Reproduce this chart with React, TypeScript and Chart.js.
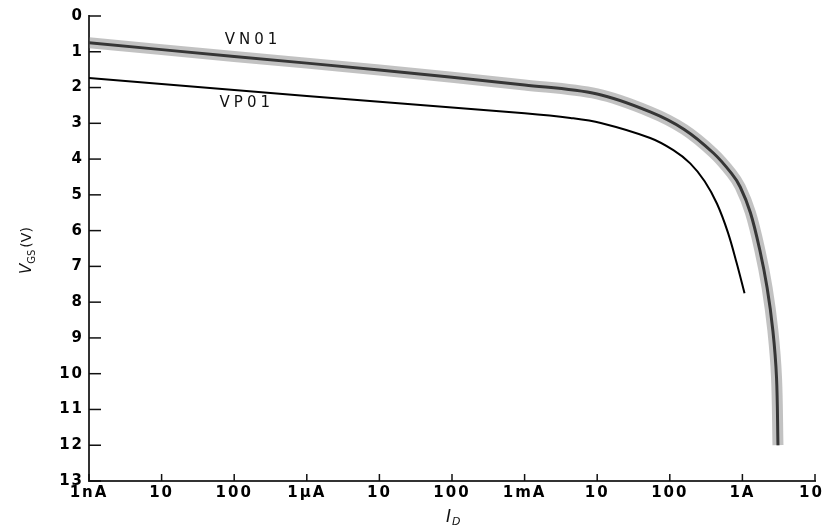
import React, { useEffect, useRef } from "react";
import { Chart, registerables } from "chart.js";

Chart.register(...registerables);

// Drain current I_D (A) and gate-source voltage V_GS (V)
const vn01Current = [1e-9, 1e-7, 1e-5, 1e-3, 1e-2, 0.0537, 0.158, 0.398, 0.708, 0.933, 1.29, 1.74, 2.19, 2.63, 2.95, 3.09];
const vn01Vgs = [0.75, 1.13, 1.51, 1.93, 2.18, 2.68, 3.17, 3.83, 4.4, 4.78, 5.5, 6.55, 7.6, 8.8, 10.1, 12.0];

const vp01Current = [1e-9, 1e-7, 1e-5, 1e-3, 4.27e-3, 1.12e-2, 5.37e-2, 0.112, 0.191, 0.302, 0.447, 0.631, 0.832, 1.07];
const vp01Vgs = [1.73, 2.07, 2.4, 2.72, 2.85, 2.99, 3.41, 3.75, 4.12, 4.62, 5.25, 6.05, 6.9, 7.75];

const xTickValues = [1e-9, 1e-8, 1e-7, 1e-6, 1e-5, 1e-4, 1e-3, 1e-2, 1e-1, 1, 10];
const xTickLabels = ["1nA", "10", "100", "1\u00b5A", "10", "100", "1mA", "10", "100", "1A", "10"];
const yTickValues = [0, 1, 2, 3, 4, 5, 6, 7, 8, 9, 10, 11, 12, 13];

const seriesLabels = [
  { text: "VN01", x: 1.7e-7, y: 0.67 },
  { text: "VP01", x: 1.4e-7, y: 2.43 },
];

const INK = "#111";
const FONT = "'DejaVu Sans', 'Liberation Sans', sans-serif";

const toPoints = (xs: number[], ys: number[]) => xs.map((x, i) => ({ x, y: ys[i] }));

const decorPlugin = {
  id: "decor",
  beforeDraw(chart: any) {
    (chart.ctx as any).letterSpacing = "2px";
  },
  afterDraw(chart: any) {
    const { ctx, scales, chartArea } = chart;
    const xs = scales.x;
    const ys = scales.y;
    ctx.save();
    ctx.strokeStyle = INK;
    ctx.lineWidth = 1.5;
    // inward ticks
    ys.ticks.forEach((t: any) => {
      const py = ys.getPixelForValue(t.value);
      ctx.beginPath();
      ctx.moveTo(chartArea.left, py);
      ctx.lineTo(chartArea.left + 12, py);
      ctx.stroke();
    });
    xs.ticks.forEach((t: any) => {
      const px = xs.getPixelForValue(t.value);
      ctx.beginPath();
      ctx.moveTo(px, chartArea.bottom);
      ctx.lineTo(px, chartArea.bottom - 7);
      ctx.stroke();
    });
    // series labels
    ctx.fillStyle = INK;
    ctx.letterSpacing = "4px";
    ctx.font = `15px ${FONT}`;
    ctx.textAlign = "center";
    ctx.textBaseline = "middle";
    seriesLabels.forEach((l) => {
      ctx.fillText(l.text, xs.getPixelForValue(l.x) + 2, ys.getPixelForValue(l.y));
    });
    // x title I_D
    ctx.letterSpacing = "0px";
    const cx = (chartArea.left + chartArea.right) / 2;
    ctx.textAlign = "left";
    ctx.textBaseline = "alphabetic";
    ctx.font = `italic 17px ${FONT}`;
    ctx.fillText("I", cx - 6, 522);
    ctx.font = `italic 11px ${FONT}`;
    ctx.fillText("D", cx, 525);
    // y title V_GS (V)
    ctx.translate(31, 250);
    ctx.rotate(-Math.PI / 2);
    ctx.font = `italic 15px ${FONT}`;
    let x0 = -24;
    ctx.fillText("V", x0, 0);
    x0 += ctx.measureText("V").width;
    ctx.font = `10px ${FONT}`;
    ctx.fillText("GS", x0, 4);
    x0 += ctx.measureText("GS").width + 2;
    ctx.font = `14px ${FONT}`;
    ctx.fillText("(V)", x0, 0);
    ctx.restore();
  },
};

export default function App() {
  const canvasRef = useRef<HTMLCanvasElement | null>(null);

  useEffect(() => {
    if (!canvasRef.current) return;
    const chart = new Chart(canvasRef.current, {
      type: "line",
      data: {
        datasets: [
          {
            label: "VN01 spread",
            data: toPoints(vn01Current, vn01Vgs),
            borderColor: "rgba(120,120,120,0.45)",
            borderWidth: 11,
            pointRadius: 0,
            tension: 0.35,
            fill: false,
          },
          {
            label: "VN01",
            data: toPoints(vn01Current, vn01Vgs),
            borderColor: "#000",
            borderWidth: 3,
            pointRadius: 0,
            tension: 0.35,
            fill: false,
          },
          {
            label: "VP01",
            data: toPoints(vp01Current, vp01Vgs),
            borderColor: "#000",
            borderWidth: 2,
            pointRadius: 0,
            tension: 0.35,
            fill: false,
          },
        ],
      },
      options: {
        animation: false,
        responsive: false,
        devicePixelRatio: 1,
        parsing: false as any,
        layout: { padding: { top: 16, right: 7, left: 0, bottom: 0 } },
        plugins: {
          legend: { display: false },
          tooltip: { enabled: false },
          title: { display: false },
        },
        scales: {
          x: {
            type: "logarithmic",
            min: 1e-9,
            max: 10,
            afterBuildTicks: (scale: any) => {
              scale.ticks = xTickValues.map((v) => ({ value: v }));
            },
            afterFit: (scale: any) => {
              scale.height = 44;
              scale.paddingLeft = 0;
              scale.paddingRight = 0;
            },
            grid: { display: false, drawTicks: false },
            border: { display: true, color: "#333", width: 2 },
            ticks: {
              autoSkip: false,
              maxRotation: 0,
              padding: 3,
              color: "#000",
              font: { family: FONT, size: 15, weight: "bold" },
              callback: (_v: any, i: number) =>
                i === xTickLabels.length - 1 ? xTickLabels[i] + "\u00a0" : xTickLabels[i],
            },
          },
          y: {
            type: "linear",
            reverse: true,
            min: 0,
            max: 13,
            afterBuildTicks: (scale: any) => {
              scale.ticks = yTickValues.map((v) => ({ value: v }));
            },
            afterFit: (scale: any) => {
              scale.width = 89;
              scale.paddingTop = 0;
              scale.paddingBottom = 0;
            },
            grid: { display: false, drawTicks: false },
            border: { display: true, color: "#333", width: 2 },
            ticks: {
              padding: 5,
              color: "#000",
              font: { family: FONT, size: 15, weight: "bold" },
              callback: (v: any) => String(v),
            },
          },
        },
      },
      plugins: [decorPlugin],
    });
    return () => chart.destroy();
  }, []);

  return (
    <div style={{ position: "absolute", left: 0, top: 0, width: 822, height: 525, background: "#fff" }}>
      <canvas ref={canvasRef} width={822} height={525} />
    </div>
  );
}
